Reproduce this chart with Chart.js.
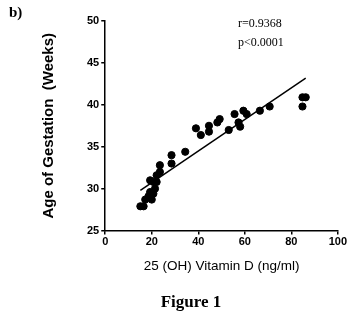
<!DOCTYPE html>
<html>
<head>
<meta charset="utf-8">
<script src="https://cdn.jsdelivr.net/npm/chart.js@4/dist/chart.umd.min.js"></script>
<style>
  html, body { margin: 0; padding: 0; background: #fff; }
  #wrap { position: relative; width: 348px; height: 324px; }
  #label-b { position: absolute; left: 9px; top: 4px; font: bold 15px "Liberation Serif", serif; }
  #stats { position: absolute; left: 238px; top: 14px; font: 12px "Liberation Serif", serif; line-height: 19px; }
  #fig { position: absolute; left: 0; width: 348px; top: 292px; text-align: center; padding-left: 34px; box-sizing: border-box; font: bold 17px "Liberation Serif", serif; }
</style>
</head>
<body>
<div id="wrap">
  <canvas id="chart" width="348" height="324"></canvas>
  <div id="label-b">b)</div>
  <div id="stats">r=0.9368<br>p&lt;0.0001</div>
  <div id="fig">Figure 1</div>
</div>
<script>
// valores
const vitaminaD = [15.1, 16.5, 17.2, 18.6, 19.3, 20.0, 19.3, 20.7, 21.4, 20.7, 22.1, 22.1, 23.5, 23.5,
  28.5, 28.5, 34.4, 39.0, 41.1, 44.6, 44.6, 48.2, 49.2, 53.1, 55.6, 57.3, 58.0, 59.4, 60.8,
  66.5, 70.7, 84.8, 84.8, 86.2];
const idadeGestacional = [27.9, 27.9, 28.7, 29.1, 29.6, 28.7, 31.0, 30.8, 30.0, 29.4, 30.8, 31.6, 32.0, 32.8,
  34.0, 33.0, 34.4, 37.2, 36.4, 37.5, 36.8, 37.9, 38.3, 37.0, 38.9, 37.9, 37.4, 39.3, 38.9,
  39.3, 39.8, 39.8, 40.9, 40.9];
const retaX = [15.1, 86.2];
const retaY = [29.8, 43.2];
const xTicks = [0, 20, 40, 60, 80, 100];
const yTicks = [25, 30, 35, 40, 45, 50];

const tickFont = { family: '"Liberation Sans", Arial, sans-serif', size: 11, weight: 'bold' };

const ctx = document.getElementById('chart').getContext('2d');
new Chart(ctx, {
    type: 'scatter',
    data: {
        datasets: [
            {
                data: vitaminaD.map((v, i) => ({ x: v, y: idadeGestacional[i] })),
                backgroundColor: '#000',
                borderColor: '#000',
                pointRadius: 3.6,
                pointHoverRadius: 3.6
            },
            {
                type: 'line',
                data: retaX.map((v, i) => ({ x: v, y: retaY[i] })),
                borderColor: '#000',
                borderWidth: 1.5,
                pointRadius: 0,
                fill: false
            }
        ]
    },
    options: {
        responsive: false,
        animation: false,
        events: [],
        layout: { padding: { left: 40, top: 21, right: 2, bottom: 46 } },
        plugins: { legend: { display: false }, tooltip: { enabled: false } },
        scales: {
            x: {
                type: 'linear', min: 0, max: 100,
                afterBuildTicks: axis => { axis.ticks = xTicks.map(v => ({ value: v })); },
                grid: { drawOnChartArea: false, drawTicks: true, tickLength: 4, color: '#000', lineWidth: 1.5 },
                border: { color: '#000', width: 1.5 },
                ticks: { color: '#000', font: tickFont, padding: 1, maxRotation: 0 },
                title: { display: true, text: '25 (OH) Vitamin D (ng/ml)', color: '#000',
                         font: { family: '"Liberation Sans", Arial, sans-serif', size: 13.5 }, padding: { top: 8 } }
            },
            y: {
                type: 'linear', min: 25, max: 50,
                afterBuildTicks: axis => { axis.ticks = yTicks.map(v => ({ value: v })); },
                grid: { drawOnChartArea: false, drawTicks: true, tickLength: 4, color: '#000', lineWidth: 1.5 },
                border: { color: '#000', width: 1.5 },
                ticks: { color: '#000', font: tickFont, padding: 2 },
                title: { display: true, text: 'Age of Gestation  (Weeks)', color: '#000',
                         font: { family: '"Liberation Sans", Arial, sans-serif', size: 15, weight: 'bold' }, padding: { top: 0, bottom: 27 } }
            }
        }
    }
});
</script>
</body>
</html>
